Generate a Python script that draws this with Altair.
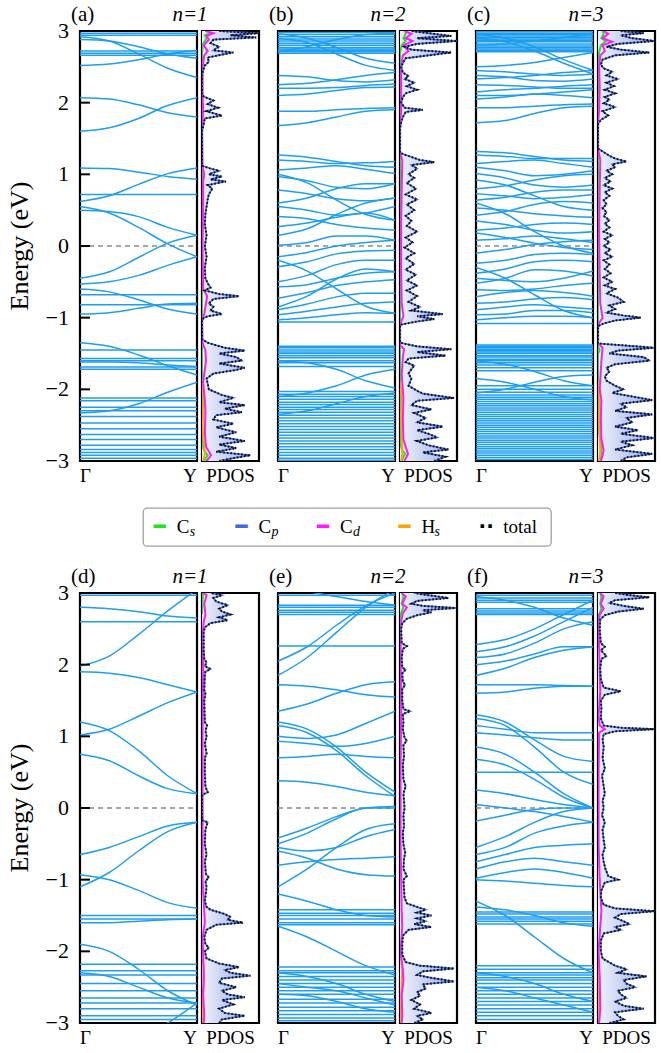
import altair as alt
import pandas as pd

SERIF = "Liberation Serif, Times New Roman, DejaVu Serif, serif"
BLUE = "#1E9EEF"
CS_C, CP_C, CD_C, HS_C = "#22e322", "#4169e1", "#ff1aff", "#ffa500"
K5 = [0.0, 0.25, 0.5, 0.75, 1.0]

# ---------------- band data (flat bands: one energy; dispersive: E at k=0,.25,.5,.75,1)
a_flat = [2.97, 2.94, 2.72, 2.69, 2.66, 0.72, -0.68, -0.82, -1.45, -1.57, -1.6, -1.69, -1.72, -2.12,
          -2.16, -2.25, -2.3, -2.38, -2.47, -2.55, -2.63, -2.7, -2.78, -2.84, -2.88, -2.92, -2.96]
a_disp = [[2.92, 2.86, 2.68, 2.48, 2.35], [2.88, 2.86, 2.78, 2.68, 2.62], [2.52, 2.54, 2.6, 2.68, 2.73],
          [2.07, 2.05, 1.97, 1.86, 1.8], [1.6, 1.65, 1.78, 1.96, 2.07], [1.09, 1.08, 1.03, 0.97, 0.93],
          [0.62, 0.7, 0.86, 1.01, 1.09], [0.55, 0.46, 0.26, 0.03, -0.15], [0.5, 0.48, 0.41, 0.26, 0.15],
          [-0.45, -0.36, -0.16, 0.04, 0.15], [-0.53, -0.5, -0.41, -0.27, -0.15], [-0.6, -0.64, -0.75, -0.88, -0.95],
          [-0.95, -0.93, -0.87, -0.81, -0.8], [-1.35, -1.4, -1.52, -1.67, -1.8], [-2.33, -2.3, -2.2, -2.04, -1.9],
          [-1.62, -1.62, -1.63, -1.66, -1.68]]

b_flat = [2.98, 2.95, 2.92, 2.89, 2.86, 2.83, 2.8, 2.77, 2.75, 2.73, 2.71, 2.69, -1.06, -1.4, -1.42, -1.45,
          -1.48, -1.5, -1.53, -1.56, -1.6, -1.63, -1.68, -2.03, -2.07, -2.1, -2.14, -2.18, -2.21, -2.25, -2.28,
          -2.32, -2.36, -2.4, -2.44, -2.48, -2.52, -2.56, -2.6, -2.64, -2.68, -2.72, -2.76, -2.8, -2.84, -2.88,
          -2.92, -2.96, -2.99]
b_disp = [[2.96, 2.9, 2.77, 2.62, 2.55], [2.9, 2.84, 2.68, 2.52, 2.45], [2.72, 2.78, 2.88, 2.95, 2.97],
          [2.38, 2.36, 2.31, 2.29, 2.32], [2.25, 2.27, 2.32, 2.38, 2.42], [2.2, 2.2, 2.21, 2.24, 2.26],
          [2.1, 2.12, 2.17, 2.21, 2.22], [1.88, 1.88, 1.9, 1.92, 1.93], [1.68, 1.72, 1.8, 1.88, 1.9],
          [1.27, 1.24, 1.18, 1.12, 1.1], [1.2, 1.18, 1.15, 1.16, 1.18], [1.06, 1.09, 1.12, 1.07, 1.01],
          [0.97, 0.91, 0.82, 0.8, 0.87], [1.0, 0.88, 0.64, 0.44, 0.36], [0.78, 0.73, 0.66, 0.63, 0.67],
          [0.6, 0.67, 0.8, 0.87, 0.87], [0.55, 0.5, 0.43, 0.46, 0.55], [0.41, 0.38, 0.3, 0.25, 0.22],
          [0.27, 0.32, 0.4, 0.46, 0.36], [0.15, 0.24, 0.44, 0.6, 0.67], [0.01, 0.05, 0.14, 0.14, 0.08],
          [-0.15, -0.09, 0.0, 0.05, 0.08], [-0.29, -0.22, -0.11, -0.07, -0.06], [-0.2, -0.35, -0.6, -0.84, -0.94],
          [-0.5, -0.41, -0.26, -0.2, -0.2], [-0.57, -0.54, -0.45, -0.38, -0.36], [-0.73, -0.65, -0.55, -0.5, -0.47],
          [-0.85, -0.7, -0.46, -0.32, -0.36], [-0.89, -0.81, -0.71, -0.66, -0.66], [-0.96, -0.91, -0.85, -0.8, -0.78],
          [-1.03, -1.0, -0.96, -0.93, -0.94], [-1.6, -1.63, -1.72, -1.88, -1.98], [-2.1, -2.05, -1.95, -1.8, -1.72],
          [-2.35, -2.3, -2.2, -2.1, -2.05]]

c_flat = [2.99, 2.97, 2.95, 2.93, 2.91, 2.89, 2.87, 2.85, 2.82, 2.79, 2.77, 2.75, 2.73, 2.71, -1.08, -1.38,
          -1.4, -1.42, -1.44, -1.46, -1.48, -1.5, -1.53, -1.55, -1.58, -1.6, -1.63, -1.66, -1.7, -1.74, -1.95,
          -2.0, -2.04, -2.08, -2.11, -2.14, -2.17, -2.2, -2.23, -2.26, -2.29, -2.32, -2.35, -2.38, -2.41, -2.44,
          -2.47, -2.5, -2.53, -2.56, -2.59, -2.62, -2.65, -2.68, -2.71, -2.74, -2.77, -2.8, -2.83, -2.86, -2.89,
          -2.92, -2.95, -2.98]
c_disp = [[2.95, 2.9, 2.78, 2.6, 2.45], [2.9, 2.85, 2.72, 2.55, 2.4], [2.8, 2.82, 2.86, 2.91, 2.95],
          [2.5, 2.52, 2.56, 2.63, 2.7], [2.45, 2.43, 2.4, 2.38, 2.4], [2.38, 2.36, 2.31, 2.3, 2.33],
          [2.33, 2.35, 2.38, 2.42, 2.45], [2.25, 2.24, 2.22, 2.2, 2.2], [2.15, 2.18, 2.2, 2.23, 2.25],
          [2.1, 2.1, 2.12, 2.15, 2.18], [2.05, 2.08, 2.12, 2.1, 2.07], [1.93, 1.93, 1.95, 1.97, 1.98],
          [1.72, 1.75, 1.85, 1.93, 1.95], [1.32, 1.3, 1.25, 1.2, 1.18], [1.27, 1.25, 1.22, 1.22, 1.22],
          [1.15, 1.18, 1.2, 1.15, 1.1], [1.1, 1.05, 0.98, 1.0, 1.05], [1.01, 0.95, 0.85, 0.82, 0.85],
          [0.92, 0.85, 0.7, 0.55, 0.5], [0.8, 0.84, 0.92, 0.98, 1.0], [0.73, 0.7, 0.66, 0.68, 0.72],
          [0.64, 0.68, 0.75, 0.78, 0.78], [0.53, 0.5, 0.45, 0.42, 0.4], [0.43, 0.48, 0.58, 0.62, 0.6],
          [0.35, 0.3, 0.22, 0.18, 0.2], [0.22, 0.25, 0.3, 0.32, 0.3], [0.18, 0.12, 0.04, -0.02, -0.05],
          [0.08, 0.1, 0.14, 0.1, 0.05], [-0.1, -0.05, 0.02, 0.06, 0.08], [-0.24, -0.2, -0.12, -0.1, -0.12],
          [-0.38, -0.32, -0.22, -0.2, -0.22], [-0.45, -0.48, -0.5, -0.45, -0.35], [-0.52, -0.45, -0.33, -0.35, -0.42],
          [-0.61, -0.62, -0.6, -0.55, -0.52], [-0.71, -0.65, -0.62, -0.65, -0.7], [-0.8, -0.78, -0.74, -0.72, -0.75],
          [-0.89, -0.85, -0.82, -0.85, -0.88], [-0.96, -0.95, -0.9, -0.9, -0.93], [-1.03, -1.0, -0.98, -0.98, -1.0],
          [-0.3, -0.45, -0.68, -0.9, -1.0], [0.6, 0.45, 0.2, 0.0, -0.1], [-1.6, -1.65, -1.75, -1.88, -1.95],
          [-2.05, -2.0, -1.9, -1.82, -1.8], [-1.85, -1.9, -2.0, -2.1, -2.15]]

d_flat = [2.97, 2.6, -1.5, -1.55, -2.18, -2.27, -2.33, -2.45, -2.55, -2.65, -2.72, -2.8, -2.9, -2.95]
d_disp = [[2.8, 2.78, 2.74, 2.68, 2.65], [1.98, 2.12, 2.42, 2.75, 3.05], [1.9, 1.88, 1.82, 1.72, 1.62],
          [1.02, 1.1, 1.28, 1.47, 1.62], [1.2, 1.08, 0.8, 0.45, 0.2], [0.75, 0.66, 0.45, 0.27, 0.2],
          [-0.65, -0.55, -0.4, -0.25, -0.2], [-1.1, -0.9, -0.6, -0.33, -0.2], [-0.93, -1.0, -1.15, -1.32, -1.4],
          [-1.6, -1.6, -1.58, -1.56, -1.55], [-1.9, -2.0, -2.25, -2.55, -2.75], [-3.6, -3.4, -3.2, -3.0, -2.72],
          [-2.3, -2.35, -2.5, -2.65, -2.72]]

e_flat = [2.97, 2.83, 2.8, 2.76, 2.73, 2.7, 2.26, -1.42, -1.47, -1.5, -1.55, -1.6, -1.63, -2.22, -2.27, -2.3,
          -2.35, -2.4, -2.45, -2.5, -2.55, -2.6, -2.67, -2.72, -2.78, -2.83, -2.88, -2.93, -2.97]
e_disp = [[2.05, 2.25, 2.55, 2.82, 3.0], [1.85, 2.1, 2.45, 2.8, 3.05], [3.1, 3.02, 2.95, 2.88, 2.83],
          [1.72, 1.7, 1.65, 1.58, 1.55], [1.35, 1.45, 1.6, 1.72, 1.76], [1.2, 1.1, 0.85, 0.5, 0.22],
          [1.15, 1.05, 0.8, 0.45, 0.16], [1.0, 0.97, 1.02, 1.18, 1.35], [0.93, 0.9, 0.86, 0.9, 1.0],
          [0.7, 0.72, 0.75, 0.72, 0.7], [0.38, 0.36, 0.3, 0.22, 0.17], [-0.42, -0.28, -0.12, 0.0, 0.02],
          [-0.5, -0.35, -0.15, 0.0, 0.0], [-1.1, -0.85, -0.55, -0.3, -0.22], [-0.55, -0.6, -0.55, -0.4, -0.3],
          [-0.6, -0.7, -0.85, -0.93, -0.95], [-0.8, -0.75, -0.72, -0.7, -0.68], [-1.2, -1.3, -1.42, -1.5, -1.52],
          [-1.65, -1.8, -2.0, -2.2, -2.33], [-2.3, -2.35, -2.45, -2.6, -2.7], [-2.6, -2.62, -2.7, -2.8, -2.85],
          [-2.45, -2.5, -2.55, -2.65, -2.75]]

f_flat = [2.97, 2.93, 2.9, 2.87, 2.78, 2.75, 2.72, 2.7, -1.45, -1.48, -1.52, -1.55, -1.58, -1.62, -2.2, -2.25,
          -2.3, -2.33, -2.37, -2.4, -2.45, -2.5, -2.55, -2.6, -2.65, -2.7, -2.75, -2.8, -2.85, -2.9, -2.95]
f_disp = [[2.28, 2.35, 2.5, 2.7, 2.9], [2.18, 2.25, 2.4, 2.6, 2.8], [2.1, 2.15, 2.3, 2.5, 2.6],
          [2.0, 2.05, 2.15, 2.25, 2.25], [1.85, 1.95, 2.1, 2.2, 2.25], [2.95, 2.9, 2.8, 2.65, 2.55],
          [1.6, 1.62, 1.67, 1.7, 1.7], [1.72, 1.72, 1.72, 1.71, 1.7], [1.3, 1.2, 0.95, 0.72, 0.65],
          [1.25, 1.15, 0.85, 0.5, 0.33], [1.15, 1.1, 1.05, 1.05, 1.05], [1.05, 1.02, 0.98, 0.95, 0.95],
          [0.85, 0.75, 0.5, 0.2, 0.0], [0.68, 0.6, 0.4, 0.15, 0.0], [0.5, 0.5, 0.5, 0.5, 0.5],
          [0.25, 0.2, 0.12, 0.05, 0.0], [0.05, 0.0, -0.05, -0.12, -0.2], [-0.18, -0.1, -0.02, 0.0, 0.0],
          [-0.55, -0.4, -0.2, -0.05, 0.0], [-0.65, -0.55, -0.35, -0.25, -0.2], [-0.75, -0.65, -0.55, -0.52, -0.5],
          [-0.85, -0.75, -0.7, -0.75, -0.8], [-0.98, -0.9, -0.85, -0.9, -0.98], [-1.0, -1.02, -1.05, -1.08, -1.1],
          [-1.3, -1.5, -1.8, -2.1, -2.3], [-1.38, -1.42, -1.5, -1.6, -1.65], [-2.3, -2.35, -2.45, -2.6, -2.7],
          [-2.5, -2.55, -2.65, -2.75, -2.85]]

# ---------------- PDOS data (E, value as fraction of panel width)
a_tot = [(3.0, 0.3), (2.97, 1.0), (2.94, 0.5), (2.91, 0.95), (2.88, 0.2), (2.83, 0.15), (2.78, 0.3), (2.73, 0.2),
         (2.7, 0.55), (2.67, 0.35), (2.63, 0.1), (2.57, 0.12), (2.52, 0.05), (2.45, 0.02), (2.4, 0.0), (2.1, 0.0),
         (2.07, 0.08), (2.03, 0.2), (1.98, 0.1), (1.93, 0.28), (1.88, 0.08), (1.82, 0.35), (1.78, 0.05), (1.7, 0.03),
         (1.6, 0.0), (1.12, 0.0), (1.08, 0.15), (1.05, 0.3), (1.0, 0.12), (0.97, 0.35), (0.93, 0.15), (0.9, 0.42),
         (0.85, 0.1), (0.8, 0.18), (0.72, 0.12), (0.65, 0.1), (0.55, 0.08), (0.45, 0.06), (0.3, 0.05), (0.15, 0.08),
         (0.0, 0.05), (-0.15, 0.08), (-0.3, 0.05), (-0.45, 0.06), (-0.52, 0.1), (-0.58, 0.15), (-0.62, 0.05),
         (-0.67, 0.3), (-0.7, 0.65), (-0.74, 0.2), (-0.8, 0.12), (-0.85, 0.2), (-0.9, 0.15), (-0.95, 0.35),
         (-0.98, 0.1), (-1.02, 0.0), (-1.3, 0.0), (-1.35, 0.1), (-1.42, 0.4), (-1.46, 0.75), (-1.5, 0.3),
         (-1.55, 0.6), (-1.6, 0.7), (-1.64, 0.3), (-1.7, 0.75), (-1.73, 0.6), (-1.78, 0.2), (-1.85, 0.08),
         (-1.92, 0.1), (-2.0, 0.12), (-2.08, 0.35), (-2.12, 0.55), (-2.18, 0.3), (-2.22, 0.75), (-2.27, 0.4),
         (-2.32, 0.7), (-2.36, 0.25), (-2.42, 0.2), (-2.48, 0.55), (-2.53, 0.25), (-2.6, 0.6), (-2.66, 0.3),
         (-2.72, 0.75), (-2.77, 0.3), (-2.82, 0.6), (-2.87, 0.25), (-2.92, 0.85), (-2.96, 0.55), (-3.0, 0.3)]
b_tot = [(3.0, 0.2), (2.97, 0.5), (2.93, 0.9), (2.9, 0.3), (2.86, 1.0), (2.82, 0.3), (2.78, 0.08), (2.74, 0.2),
         (2.7, 0.9), (2.66, 0.5), (2.62, 0.1), (2.55, 0.05), (2.5, 0.02), (2.42, 0.05), (2.37, 0.15), (2.33, 0.08),
         (2.28, 0.25), (2.23, 0.12), (2.18, 0.3), (2.13, 0.1), (2.08, 0.05), (2.0, 0.02), (1.93, 0.08), (1.9, 0.4),
         (1.87, 0.1), (1.8, 0.05), (1.72, 0.02), (1.65, 0.0), (1.3, 0.0), (1.27, 0.1), (1.2, 0.35), (1.17, 0.6),
         (1.13, 0.2), (1.08, 0.3), (1.0, 0.15), (0.95, 0.25), (0.88, 0.12), (0.8, 0.28), (0.72, 0.1), (0.65, 0.3),
         (0.58, 0.12), (0.5, 0.25), (0.42, 0.1), (0.35, 0.2), (0.28, 0.12), (0.2, 0.3), (0.12, 0.1), (0.05, 0.22),
         (-0.02, 0.08), (-0.1, 0.25), (-0.17, 0.1), (-0.25, 0.25), (-0.33, 0.1), (-0.4, 0.28), (-0.48, 0.12),
         (-0.55, 0.3), (-0.62, 0.12), (-0.7, 0.3), (-0.78, 0.15), (-0.85, 0.35), (-0.9, 0.2), (-0.95, 0.75),
         (-0.98, 0.3), (-1.02, 0.6), (-1.06, 0.25), (-1.1, 0.0), (-1.35, 0.0), (-1.4, 0.3), (-1.44, 0.9),
         (-1.48, 0.3), (-1.53, 0.8), (-1.57, 0.15), (-1.62, 0.1), (-1.67, 0.25), (-1.72, 0.2), (-1.78, 0.15),
         (-1.85, 0.2), (-1.95, 0.15), (-2.02, 0.3), (-2.06, 0.4), (-2.12, 0.95), (-2.16, 0.3), (-2.22, 0.2),
         (-2.28, 0.55), (-2.33, 0.25), (-2.4, 0.45), (-2.46, 0.3), (-2.52, 0.75), (-2.57, 0.3), (-2.62, 0.5),
         (-2.67, 0.65), (-2.72, 0.3), (-2.78, 0.5), (-2.84, 0.85), (-2.88, 0.4), (-2.94, 0.8), (-3.0, 0.6)]
c_tot = [(3.0, 0.4), (2.97, 0.8), (2.94, 0.4), (2.9, 0.6), (2.86, 1.0), (2.82, 0.35), (2.78, 0.15), (2.74, 0.4),
         (2.7, 0.9), (2.66, 0.3), (2.6, 0.08), (2.53, 0.05), (2.48, 0.1), (2.43, 0.25), (2.38, 0.15), (2.33, 0.35),
         (2.28, 0.15), (2.23, 0.28), (2.18, 0.12), (2.13, 0.3), (2.08, 0.12), (2.04, 0.2), (1.99, 0.1), (1.94, 0.3),
         (1.88, 0.08), (1.82, 0.18), (1.76, 0.05), (1.7, 0.0), (1.36, 0.0), (1.32, 0.08), (1.26, 0.2), (1.22, 0.3),
         (1.18, 0.5), (1.14, 0.25), (1.1, 0.3), (1.05, 0.15), (1.0, 0.25), (0.95, 0.12), (0.9, 0.22), (0.85, 0.1),
         (0.8, 0.25), (0.75, 0.12), (0.7, 0.2), (0.64, 0.1), (0.58, 0.15), (0.53, 0.08), (0.47, 0.15), (0.42, 0.1),
         (0.36, 0.2), (0.31, 0.12), (0.26, 0.2), (0.2, 0.1), (0.15, 0.25), (0.1, 0.12), (0.05, 0.2), (0.0, 0.1),
         (-0.05, 0.22), (-0.1, 0.12), (-0.15, 0.25), (-0.2, 0.1), (-0.26, 0.2), (-0.32, 0.12), (-0.38, 0.22),
         (-0.44, 0.1), (-0.5, 0.25), (-0.55, 0.12), (-0.6, 0.3), (-0.66, 0.15), (-0.72, 0.35), (-0.78, 0.45),
         (-0.83, 0.2), (-0.88, 0.3), (-0.93, 0.15), (-0.97, 0.45), (-1.0, 0.75), (-1.04, 0.3), (-1.08, 0.1),
         (-1.12, 0.0), (-1.36, 0.0), (-1.39, 0.5), (-1.42, 1.0), (-1.46, 0.35), (-1.5, 0.2), (-1.55, 0.8),
         (-1.6, 0.9), (-1.65, 0.3), (-1.7, 0.15), (-1.75, 0.2), (-1.82, 0.12), (-1.88, 0.15), (-1.95, 0.3),
         (-2.0, 0.45), (-2.05, 0.25), (-2.1, 0.6), (-2.15, 0.95), (-2.2, 0.4), (-2.25, 0.5), (-2.3, 0.3),
         (-2.35, 0.95), (-2.4, 0.5), (-2.46, 0.6), (-2.52, 0.3), (-2.57, 0.7), (-2.62, 0.4), (-2.68, 1.0),
         (-2.73, 0.4), (-2.78, 0.6), (-2.84, 0.3), (-2.9, 0.95), (-2.95, 0.5), (-3.0, 0.4)]
d_tot = [(3.0, 0.15), (2.97, 0.35), (2.93, 0.2), (2.88, 0.25), (2.83, 0.45), (2.78, 0.3), (2.74, 0.35), (2.7, 0.5),
         (2.66, 0.3), (2.62, 0.45), (2.58, 0.15), (2.52, 0.05), (2.45, 0.03), (2.2, 0.03), (2.08, 0.04), (2.03, 0.08),
         (1.98, 0.05), (1.94, 0.15), (1.9, 0.06), (1.85, 0.05), (1.65, 0.04), (1.6, 0.06), (1.5, 0.04), (1.2, 0.05),
         (1.15, 0.09), (1.08, 0.06), (1.0, 0.08), (0.9, 0.05), (0.76, 0.08), (0.7, 0.05), (0.5, 0.05), (0.3, 0.06),
         (0.22, 0.1), (0.18, 0.0), (-0.17, 0.0), (-0.2, 0.1), (-0.3, 0.06), (-0.5, 0.05), (-0.65, 0.08),
         (-0.75, 0.05), (-0.92, 0.07), (-0.97, 0.12), (-1.02, 0.06), (-1.1, 0.08), (-1.3, 0.05), (-1.38, 0.08),
         (-1.42, 0.15), (-1.48, 0.4), (-1.52, 0.5), (-1.56, 0.45), (-1.6, 0.72), (-1.63, 0.25), (-1.7, 0.08),
         (-1.8, 0.04), (-1.9, 0.06), (-1.95, 0.12), (-2.0, 0.05), (-2.1, 0.08), (-2.17, 0.3), (-2.22, 0.65),
         (-2.26, 0.4), (-2.3, 0.5), (-2.34, 0.85), (-2.38, 0.35), (-2.44, 0.3), (-2.5, 0.6), (-2.55, 0.35),
         (-2.6, 0.45), (-2.64, 0.75), (-2.68, 0.35), (-2.74, 0.55), (-2.8, 0.3), (-2.86, 0.4), (-2.9, 0.75),
         (-2.95, 0.35), (-3.0, 0.3)]
e_tot = [(3.0, 0.25), (2.97, 0.5), (2.93, 0.85), (2.89, 0.3), (2.85, 0.2), (2.82, 0.4), (2.79, 1.0), (2.76, 0.4),
         (2.73, 0.55), (2.69, 0.3), (2.64, 0.12), (2.58, 0.04), (2.5, 0.02), (2.3, 0.03), (2.26, 0.12), (2.22, 0.05),
         (2.1, 0.03), (1.96, 0.04), (1.93, 0.1), (1.88, 0.04), (1.76, 0.05), (1.72, 0.09), (1.66, 0.04), (1.5, 0.04),
         (1.38, 0.06), (1.35, 0.18), (1.31, 0.05), (1.2, 0.06), (1.1, 0.05), (0.98, 0.08), (0.94, 0.12), (0.88, 0.06),
         (0.72, 0.07), (0.6, 0.05), (0.4, 0.06), (0.3, 0.1), (0.2, 0.06), (0.1, 0.07), (0.0, 0.08), (-0.1, 0.06),
         (-0.25, 0.07), (-0.35, 0.05), (-0.5, 0.06), (-0.62, 0.09), (-0.72, 0.07), (-0.85, 0.06), (-0.95, 0.12),
         (-1.0, 0.06), (-1.12, 0.07), (-1.25, 0.08), (-1.33, 0.12), (-1.38, 0.3), (-1.42, 0.45), (-1.46, 0.3),
         (-1.5, 0.55), (-1.54, 0.3), (-1.58, 0.45), (-1.62, 0.25), (-1.66, 0.55), (-1.7, 0.15), (-1.78, 0.05),
         (-1.9, 0.04), (-2.05, 0.04), (-2.15, 0.1), (-2.2, 0.35), (-2.24, 0.95), (-2.28, 0.4), (-2.33, 0.3),
         (-2.37, 0.55), (-2.42, 0.95), (-2.46, 0.4), (-2.52, 0.45), (-2.57, 0.3), (-2.62, 0.35), (-2.68, 0.2),
         (-2.74, 0.35), (-2.8, 0.25), (-2.86, 0.55), (-2.9, 0.3), (-2.95, 0.4), (-3.0, 0.25)]
f_tot = [(3.0, 0.3), (2.97, 0.55), (2.94, 0.9), (2.9, 0.3), (2.86, 0.2), (2.82, 0.45), (2.78, 0.8), (2.74, 0.35),
         (2.69, 0.12), (2.63, 0.04), (2.5, 0.03), (2.3, 0.05), (2.25, 0.12), (2.2, 0.05), (2.12, 0.15), (2.08, 0.06),
         (1.95, 0.04), (1.8, 0.05), (1.68, 0.1), (1.63, 0.4), (1.58, 0.12), (1.5, 0.05), (1.4, 0.06), (1.25, 0.05),
         (1.15, 0.1), (1.12, 0.4), (1.1, 1.0), (1.07, 0.3), (1.03, 0.1), (0.95, 0.08), (0.85, 0.1), (0.7, 0.08),
         (0.55, 0.12), (0.45, 0.07), (0.3, 0.1), (0.2, 0.12), (0.1, 0.08), (0.0, 0.1), (-0.1, 0.07), (-0.2, 0.12),
         (-0.3, 0.08), (-0.45, 0.1), (-0.55, 0.12), (-0.65, 0.08), (-0.75, 0.1), (-0.85, 0.13), (-0.95, 0.18),
         (-1.0, 0.35), (-1.04, 0.12), (-1.15, 0.06), (-1.25, 0.05), (-1.35, 0.1), (-1.4, 0.3), (-1.44, 1.0),
         (-1.48, 0.4), (-1.53, 0.3), (-1.58, 0.45), (-1.62, 0.55), (-1.66, 0.3), (-1.7, 0.4), (-1.75, 0.1),
         (-1.85, 0.05), (-2.0, 0.05), (-2.1, 0.08), (-2.2, 0.3), (-2.25, 0.5), (-2.3, 0.35), (-2.35, 0.85),
         (-2.4, 0.45), (-2.45, 0.5), (-2.5, 0.65), (-2.55, 0.35), (-2.6, 0.4), (-2.65, 0.5), (-2.7, 0.3),
         (-2.76, 0.45), (-2.8, 0.8), (-2.85, 0.3), (-2.9, 0.35), (-2.95, 0.45), (-3.0, 0.2)]

a_cd = [(3.0, 0.06), (2.97, 0.2), (2.93, 0.08), (2.88, 0.12), (2.8, 0.03), (2.72, 0.1), (2.66, 0.04), (2.5, 0.01),
        (2.1, 0.01), (1.9, 0.02), (1.6, 0.0), (1.1, 0.01), (1.0, 0.04), (0.9, 0.02), (0.6, 0.02), (0.0, 0.01),
        (-0.6, 0.02), (-0.7, 0.09), (-0.95, 0.04), (-1.05, 0.0), (-1.35, 0.01), (-1.46, 0.06), (-1.6, 0.07),
        (-1.72, 0.05), (-1.9, 0.02), (-2.15, 0.05), (-2.3, 0.06), (-2.6, 0.05), (-2.8, 0.07), (-2.92, 0.16), (-3.0, 0.08)]
b_cd = [(3.0, 0.08), (2.96, 0.2), (2.9, 0.1), (2.86, 0.22), (2.8, 0.06), (2.72, 0.15), (2.66, 0.05), (2.5, 0.02),
        (2.2, 0.02), (1.9, 0.02), (1.65, 0.0), (1.3, 0.0), (1.2, 0.04), (0.8, 0.03), (0.3, 0.02), (-0.3, 0.02),
        (-0.8, 0.03), (-0.98, 0.06), (-1.1, 0.0), (-1.38, 0.0), (-1.44, 0.07), (-1.55, 0.05), (-1.8, 0.03),
        (-2.12, 0.06), (-2.4, 0.05), (-2.7, 0.06), (-2.9, 0.14), (-3.0, 0.08)]
c_cd = [(3.0, 0.1), (2.96, 0.18), (2.9, 0.08), (2.85, 0.25), (2.8, 0.08), (2.72, 0.12), (2.66, 0.04), (2.5, 0.02),
        (2.2, 0.03), (1.9, 0.02), (1.7, 0.0), (1.36, 0.0), (1.2, 0.04), (0.8, 0.03), (0.2, 0.02), (-0.4, 0.03),
        (-0.8, 0.04), (-1.0, 0.08), (-1.1, 0.0), (-1.36, 0.0), (-1.42, 0.08), (-1.6, 0.06), (-2.0, 0.03),
        (-2.15, 0.06), (-2.4, 0.05), (-2.7, 0.06), (-2.85, 0.1), (-2.95, 0.07), (-3.0, 0.05)]
d_cd = [(3.0, 0.03), (2.97, 0.08), (2.85, 0.04), (2.7, 0.06), (2.6, 0.03), (2.4, 0.01), (1.9, 0.02), (1.0, 0.01),
        (0.2, 0.01), (-0.2, 0.01), (-1.0, 0.01), (-1.6, 0.05), (-1.8, 0.01), (-2.3, 0.03), (-2.6, 0.02),
        (-2.9, 0.04), (-3.0, 0.03)]
e_cd = [(3.0, 0.03), (2.95, 0.1), (2.85, 0.04), (2.8, 0.12), (2.72, 0.05), (2.6, 0.02), (2.3, 0.01), (1.35, 0.02),
        (0.5, 0.01), (-0.5, 0.01), (-1.45, 0.03), (-1.65, 0.04), (-2.0, 0.01), (-2.25, 0.05), (-2.42, 0.06),
        (-2.6, 0.03), (-2.9, 0.04), (-3.0, 0.03)]
f_cd = [(3.0, 0.04), (2.95, 0.1), (2.85, 0.05), (2.78, 0.1), (2.7, 0.03), (2.5, 0.01), (1.63, 0.04), (1.3, 0.01),
        (1.15, 0.03), (1.1, 0.12), (1.05, 0.02), (0.5, 0.01), (-0.5, 0.01), (-1.0, 0.03), (-1.44, 0.06),
        (-1.65, 0.04), (-2.0, 0.01), (-2.35, 0.03), (-2.8, 0.04), (-3.0, 0.02)]

a_cs = [(3.0, 0.12), (2.97, 0.14), (2.94, 0.05), (2.9, 0.08), (2.82, 0.02), (2.7, 0.0), (-2.75, 0.0), (-2.86, 0.04),
        (-2.92, 0.1), (-2.97, 0.06), (-3.0, 0.04)]
b_cs = [(3.0, 0.1), (2.96, 0.1), (2.9, 0.06), (2.86, 0.1), (2.8, 0.03), (2.7, 0.0), (-2.75, 0.0), (-2.85, 0.04),
        (-2.9, 0.09), (-2.96, 0.05), (-3.0, 0.04)]
c_cs = [(3.0, 0.08), (2.96, 0.1), (2.9, 0.06), (2.86, 0.14), (2.8, 0.05), (2.7, 0.02), (2.6, 0.0), (-1.4, 0.0),
        (-1.45, 0.03), (-1.5, 0.0), (-2.5, 0.0), (-2.7, 0.04), (-2.85, 0.06), (-2.95, 0.04), (-3.0, 0.03)]
d_cs = [(3.0, 0.02), (2.9, 0.01), (2.7, 0.0)]
e_cs = [(3.0, 0.04), (2.95, 0.06), (2.85, 0.03), (2.8, 0.06), (2.72, 0.02), (2.6, 0.0)]
f_cs = [(3.0, 0.04), (2.95, 0.06), (2.85, 0.04), (2.78, 0.06), (2.7, 0.02), (2.6, 0.0)]

a_hs = [(-1.9, 0.0), (-2.15, 0.03), (-2.3, 0.02), (-2.5, 0.01), (-2.9, 0.05), (-3.0, 0.02)]
b_hs = [(-1.9, 0.0), (-2.12, 0.03), (-2.4, 0.02), (-2.9, 0.04), (-3.0, 0.02)]
c_hs = [(-1.9, 0.0), (-2.15, 0.03), (-2.4, 0.02), (-2.85, 0.04), (-3.0, 0.02)]
d_hs = [(-2.0, 0.0), (-2.22, 0.03), (-2.4, 0.04), (-2.6, 0.02), (-3.0, 0.01)]
e_hs = [(-2.0, 0.0), (-2.24, 0.04), (-2.42, 0.03), (-3.0, 0.01)]
f_hs = [(-2.0, 0.0), (-2.35, 0.02), (-2.8, 0.02), (-3.0, 0.01)]

tags = ["(a)", "(b)", "(c)", "(d)", "(e)", "(f)"]
ntags = ["n=1", "n=2", "n=3", "n=1", "n=2", "n=3"]
kpath = ["Γ", "Y"]
pdos_label = "PDOS"
y_title = "Energy (eV)"
ytick_vals = [-2, -1, 0, 1, 2]
yaxis_vals = [-3, -2, -1, 0, 1, 2, 3]
yaxis_text = ["\u22123", "\u22122", "\u22121", "0", "1", "2", "3"]

leg_keys = ["Cs", "Cp", "Cd", "Hs", "total"]
leg_main = ["C", "C", "C", "H", "total"]
leg_sub = ["s", "p", "d", "s", ""]
leg_sym = ["\u2501", "\u2501", "\u2501", "\u2501", "\u00b7\u00b7"]
leg_colors = [CS_C, CP_C, CD_C, HS_C, "black"]

BW, PW, H = 117, 57, 430
XS = alt.Scale(domain=[0, 1], nice=False, zero=False)
YS = alt.Scale(domain=[-3, 3], nice=False, zero=False)
GRAD = alt.LinearGradient(gradient="linear", x1=0, x2=1, y1=0, y2=0,
                          stops=[alt.GradientStop(color="#f2f4fc", offset=0),
                                 alt.GradientStop(color="#c3ccf0", offset=0.45),
                                 alt.GradientStop(color="#8c9ee2", offset=1)])


def xd(v):
    return alt.XDatum(v, scale=XS, axis=None)


def label_text(txt, xv, align, size=19):
    return alt.Chart(pd.DataFrame({"t": [txt]})).mark_text(
        align=align, baseline="top", font=SERIF, fontSize=size, color="black").encode(
        x=xd(xv), y=alt.value(H + 6), text="t:N")


def band_panel(flat, disp, tag, ntag, show_y):
    rows = []
    for i, e in enumerate(flat):
        for k in (0.0, 1.0):
            rows.append({"b": "f%d" % i, "k": k, "E": e})
    for i, es in enumerate(disp):
        for k, e in zip(K5, es):
            rows.append({"b": "d%d" % i, "k": k, "E": e})
    df = pd.DataFrame(rows)
    Y = alt.Y("E:Q", scale=YS, axis=None)
    zero = alt.Chart(pd.DataFrame({"E": [0.0]})).mark_rule(
        color="#8a8a8a", strokeDash=[5, 4], strokeWidth=1.3).encode(x=xd(0), x2=alt.X2Datum(1), y=Y)
    lines = alt.Chart(df).mark_line(color=BLUE, strokeWidth=1.5, interpolate="monotone", clip=True).encode(
        x=alt.X("k:Q", scale=XS, axis=None), y=Y, detail="b:N")
    t1 = alt.Chart(pd.DataFrame({"t": [tag]})).mark_text(
        align="left", baseline="middle", font=SERIF, fontSize=21, dx=-9, color="black").encode(
        x=xd(0), y=alt.value(-16), text="t:N")
    t2 = alt.Chart(pd.DataFrame({"t": [ntag]})).mark_text(
        align="center", baseline="middle", font=SERIF, fontSize=21, fontStyle="italic", dx=-7,
        color="black").encode(x=xd(1), y=alt.value(-16), text="t:N")
    layers = [zero, lines, t1, t2, label_text(kpath[0], 0, "left"), label_text(kpath[1], 1, "right")]
    if show_y:
        ticks = alt.Chart(pd.DataFrame({"E": ytick_vals})).mark_rule(color="black", strokeWidth=2).encode(
            x=xd(0), x2=alt.X2Datum(0.085), y=Y)
        ylab = alt.Chart(pd.DataFrame({"E": yaxis_vals, "t": yaxis_text})).mark_text(
            align="right", baseline="middle", dx=-11, font=SERIF, fontSize=22, color="black").encode(
            x=xd(0), y=Y, text="t:N")
        ytit = alt.Chart(pd.DataFrame({"t": [y_title]})).mark_text(
            angle=270, align="center", baseline="bottom", dy=-47, font=SERIF, fontSize=26,
            color="black").encode(x=xd(0), y=alt.YDatum(0, scale=YS, axis=None), text="t:N")
        layers += [ticks, ylab, ytit]
    return alt.layer(*layers).properties(width=BW, height=H)


def comp_line(data, color, width, dash=None):
    kw = dict(color=color, strokeWidth=width, clip=True)
    if dash is not None:
        kw["strokeDash"] = dash
    return alt.Chart(pd.DataFrame(data, columns=["E", "v"])).mark_line(**kw).encode(
        x=alt.X("v:Q", scale=XS, axis=None), y=alt.Y("E:Q", scale=YS, axis=None), order=alt.Order("E:Q"))


def fill_area(data, fill, op):
    return alt.Chart(pd.DataFrame(data, columns=["E", "v"])).mark_area(
        orient="horizontal", fill=fill, fillOpacity=op, clip=True).encode(
        x=alt.X("v:Q", scale=XS, axis=None, stack=None), x2=alt.X2Datum(0),
        y=alt.Y("E:Q", scale=YS, axis=None))


def pdos_panel(tot, cd, cs, hs):
    return alt.layer(
        fill_area(tot, "#dfe4f7", 1.0),
        fill_area(tot, GRAD, 0.8),
        comp_line(cs, CS_C, 2.0),
        comp_line(hs, HS_C, 2.0),
        comp_line(cd, CD_C, 2.0),
        comp_line(tot, CP_C, 1.6),
        comp_line(tot, "#111111", 2.0, dash=[1.6, 2.0]),
        label_text(pdos_label, 0.5, "center"),
    ).properties(width=PW, height=H)


def gap(w, h):
    return alt.Chart(pd.DataFrame({"a": [0]})).mark_point(opacity=0).encode(
        x=alt.value(0), y=alt.value(0)).properties(width=w, height=h, view=alt.ViewBackground(stroke="transparent"))


def row(specs, offset):
    parts = []
    for j, (flat, disp, tot, cd, cs, hs) in enumerate(specs):
        if j > 0:
            parts.append(gap(9, H))
        parts.append(band_panel(flat, disp, tags[offset + j], ntags[offset + j], j == 0))
        parts.append(pdos_panel(tot, cd, cs, hs))
    return alt.hconcat(*parts, spacing=5, bounds="flush")


top = row([(a_flat, a_disp, a_tot, a_cd, a_cs, a_hs),
           (b_flat, b_disp, b_tot, b_cd, b_cs, b_hs),
           (c_flat, c_disp, c_tot, c_cd, c_cs, c_hs)], 0)
bottom = row([(d_flat, d_disp, d_tot, d_cd, d_cs, d_hs),
              (e_flat, e_disp, e_tot, e_cd, e_cs, e_hs),
              (f_flat, f_disp, f_tot, f_cd, f_cs, f_hs)], 3)

# legend: text positions are relative to each entry's band centre (step 81.6 px)
ldf = pd.DataFrame({"key": leg_keys, "main": leg_main, "sub": leg_sub, "sym": leg_sym})
lx = alt.X("key:N", scale=alt.Scale(domain=leg_keys, paddingInner=0, paddingOuter=0), axis=None)
l_sym = alt.Chart(ldf).mark_text(align="center", baseline="middle", dx=-24, font="DejaVu Sans",
                                 fontSize=20, fontWeight="bold").encode(
    x=lx, y=alt.value(19), text="sym:N",
    color=alt.Color("key:N", scale=alt.Scale(domain=leg_keys, range=leg_colors), legend=None))
l_main = alt.Chart(ldf).mark_text(align="left", baseline="middle", dx=-7, font=SERIF, fontSize=19,
                                  color="black").encode(x=lx, y=alt.value(19), text="main:N")
l_sub = alt.Chart(ldf).mark_text(align="left", baseline="middle", dx=6, dy=5, font=SERIF, fontSize=14,
                                 fontStyle="italic", color="black").encode(x=lx, y=alt.value(19), text="sub:N")
legend = alt.layer(l_sym, l_main, l_sub).properties(
    width=408, height=38, view=alt.ViewBackground(stroke="#a0a0a0", strokeWidth=1.3, cornerRadius=4))
mid = alt.hconcat(gap(58, 38), legend, spacing=5, bounds="flush")

chart = alt.vconcat(top, mid, bottom, spacing=16).properties(
    padding={"left": 5, "top": 2, "right": 2, "bottom": 0}
).configure(font=SERIF).configure_view(stroke="black", strokeWidth=2.2)

chart.save("out.html", embed_options={"renderer": "svg", "actions": False})
